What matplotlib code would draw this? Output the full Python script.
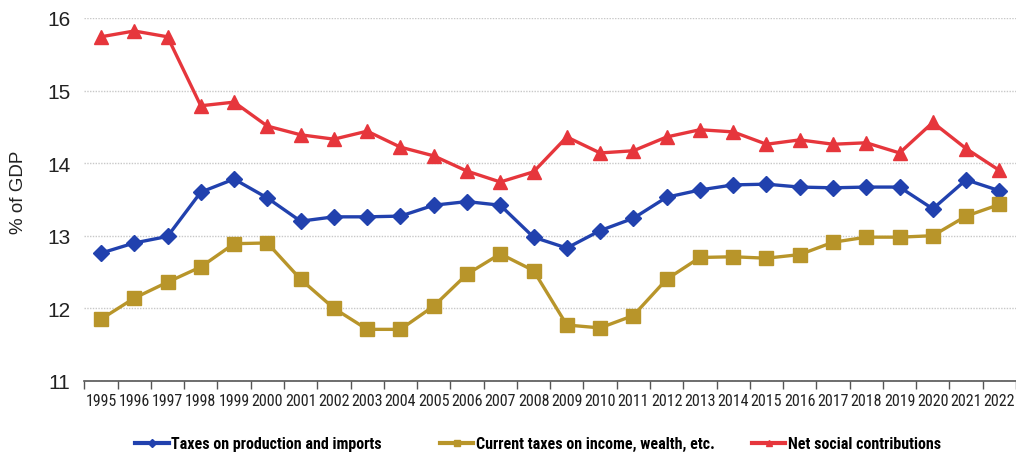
import numpy as np
import matplotlib.pyplot as plt
from matplotlib.lines import Line2D

plt.rcParams['font.family'] = ['Roboto Condensed', 'Liberation Sans', 'DejaVu Sans']

years = [str(y) for y in range(1995, 2023)]

# % of GDP
production_imports = [12.76, 12.90, 12.99, 13.60, 13.78, 13.52, 13.20, 13.26, 13.26, 13.27,
                      13.42, 13.47, 13.42, 12.98, 12.83, 13.07, 13.24, 13.53, 13.63, 13.70,
                      13.71, 13.67, 13.66, 13.67, 13.67, 13.37, 13.77, 13.62]
income_wealth = [11.85, 12.14, 12.36, 12.57, 12.89, 12.90, 12.40, 12.00, 11.71, 11.71,
                 12.03, 12.47, 12.75, 12.52, 11.77, 11.73, 11.90, 12.40, 12.70, 12.71,
                 12.69, 12.74, 12.91, 12.98, 12.98, 13.00, 13.27, 13.43]
social_contrib = [15.74, 15.82, 15.74, 14.79, 14.84, 14.51, 14.39, 14.33, 14.44, 14.22,
                  14.10, 13.89, 13.74, 13.88, 14.36, 14.14, 14.17, 14.36, 14.46, 14.43,
                  14.26, 14.32, 14.26, 14.28, 14.14, 14.56, 14.20, 13.90]

labels = ['Taxes on production and imports',
          'Current taxes on income, wealth, etc.',
          'Net social contributions']
blue = '#2141ae'
gold = '#b8952a'
red = '#e6363c'

fig = plt.figure(figsize=(10.16, 4.56), dpi=100)
ax = fig.add_axes([0.083, 0.1625, 0.917, 0.796])

x = np.arange(len(years))
ax.plot(x, production_imports, color=blue, lw=2.4, marker='D', ms=8.5, zorder=3)
ax.plot(x, income_wealth, color=gold, lw=2.4, marker='s', ms=10, zorder=3)
ax.plot(x, social_contrib, color=red, lw=2.4, marker='^', ms=10, zorder=4)

ax.set_xlim(-0.5, len(years) - 0.5)
ax.set_ylim(11, 16)
ax.set_yticks([11, 12, 13, 14, 15, 16])
ax.set_xticks(x)
ax.set_xticklabels(years, fontsize=11.5, color='#222222')
ax.set_xticks(np.arange(-0.5, len(years)), minor=True)
ax.tick_params(axis='x', which='major', length=0, pad=9)
ax.tick_params(axis='x', which='minor', length=6, width=1, color='#555555')
ax.tick_params(axis='y', length=0, pad=10, labelsize=15, labelcolor='#222222')
for t in ax.get_yticklabels():
    t.set_family(['Liberation Sans', 'DejaVu Sans'])

ax.grid(axis='y', color='#c8c8c8', lw=1, ls=(0, (1, 1)))
for s in ['top', 'right', 'left']:
    ax.spines[s].set_visible(False)
ax.spines['bottom'].set_color('#555555')
ax.spines['bottom'].set_linewidth(1.2)

fig.text(0.018, 0.579, '% of GDP', rotation=90, va='center', ha='center',
         fontsize=13.5, family=['Liberation Sans', 'DejaVu Sans'], color='#222222')

# one legend per series so each entry sits where it should along the bottom
handles = [Line2D([], [], color=blue, lw=3, marker='D', ms=4),
           Line2D([], [], color=gold, lw=3, marker='s', ms=5),
           Line2D([], [], color=red, lw=3, marker='^', ms=5)]
lefts = [0.133, 0.433, 0.740]
for h, lab, x0 in zip(handles, labels, lefts):
    fig.legend([h], [lab], loc='center left', bbox_to_anchor=(x0, 0.025),
               frameon=False, borderpad=0, borderaxespad=0, handlelength=2.1,
               handletextpad=0.15, prop={'family': 'Roboto Condensed', 'size': 11.5, 'weight': 'bold'})

fig.savefig('out.png', dpi=100)
